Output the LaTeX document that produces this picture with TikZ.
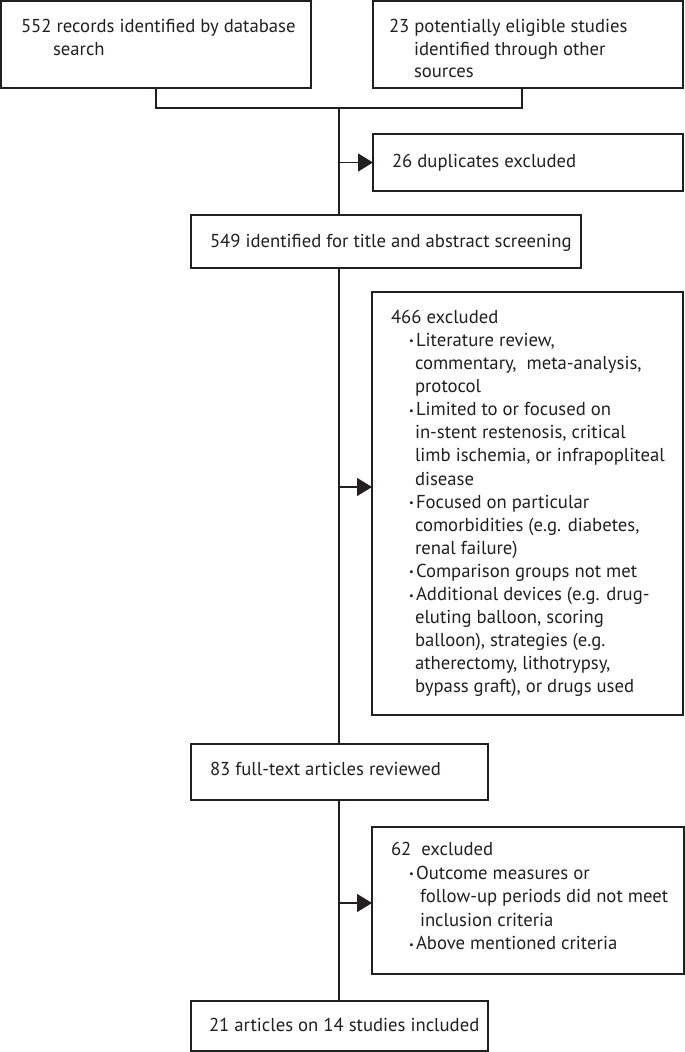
\documentclass[tikz,border=0pt]{standalone}
\usepackage{fontspec}
\setmainfont{PT Sans}
\usetikzlibrary{arrows.meta}
\definecolor{ink}{RGB}{35,31,32}
\newcommand{\bul}{\makebox[7pt][l]{\raisebox{1.5pt}{\fontsize{10.5}{10.5}\selectfont •}}}
\begin{document}
\begin{tikzpicture}[x=1pt,y=-1pt,
  box/.style={draw=ink, line width=1.4pt, rectangle, inner sep=0pt, outer sep=0pt, anchor=north west},
  txt/.style={anchor=base west, inner sep=0pt, outer sep=0pt, text=ink, font=\fontsize{18.7}{22}\selectfont},
  conn/.style={draw=ink, line width=1.4pt},
  arr/.style={conn, -{Triangle[length=15pt,width=18pt]}}]
\fill[white] (0,0) rectangle (685,1052);
\useasboundingbox (0,0) rectangle (685,1052);
% boxes
\node[box, minimum width=310pt, minimum height=87pt] (b1) at (1,1) {};
\node[box, minimum width=310pt, minimum height=87pt] (b2) at (373,1) {};
\node[box, minimum width=310pt, minimum height=57pt] (b3) at (373,134) {};
\node[box, minimum width=390pt, minimum height=53pt] (b4) at (191,215) {};
\node[box, minimum width=311pt, minimum height=423pt] (b5) at (372,292) {};
\node[box, minimum width=297pt, minimum height=56pt] (b6) at (191,744) {};
\node[box, minimum width=312pt, minimum height=147pt] (b7) at (372,827) {};
\node[box, minimum width=297pt, minimum height=50pt] (b8) at (191,1001) {};
% texts
\node[txt] (t1a) at (21,32.3) {552 records identified by database};
\node[txt] (t1b) at (53,55) {search};
\node[txt] (t2a) at (389,32.3) {23 potentially eligible studies};
\node[txt] (t2b) at (414,55) {identified through other};
\node[txt] (t2c) at (414,77.7) {sources};
\node[txt] (t3) at (392,167.5) {26 duplicates excluded};
\node[txt] (t4) at (210,247.3) {549 identified for title and abstract screening};
\node[txt] (t5a) at (391,323.3) {466 excluded};
\node[txt] (t5b) at (409,346.4) {\bul Literature review,};
\node[txt] (t5c) at (415,369.5) {commentary,\ \ meta-analysis,};
\node[txt] (t5d) at (415,392.6) {protocol};
\node[txt] (t5e) at (409,415.7) {\bul Limited to or focused on};
\node[txt] (t5f) at (415,438.8) {in-stent restenosis, critical};
\node[txt] (t5g) at (415,461.9) {limb ischemia, or infrapopliteal};
\node[txt] (t5h) at (415,485.0) {disease};
\node[txt] (t5i) at (409,508.1) {\bul Focused on particular};
\node[txt] (t5j) at (415,531.2) {comorbidities (e.g. diabetes,};
\node[txt] (t5k) at (415,554.3) {renal failure)};
\node[txt] (t5l) at (409,577.4) {\bul Comparison groups not met};
\node[txt] (t5m) at (409,600.5) {\bul Additional devices (e.g. drug-};
\node[txt] (t5n) at (415,623.6) {eluting balloon, scoring};
\node[txt] (t5o) at (415,646.7) {balloon), strategies (e.g.};
\node[txt] (t5p) at (415,669.8) {atherectomy, lithotrypsy,};
\node[txt] (t5q) at (415,692.9) {bypass graft), or drugs used};
\node[txt] (t6) at (210,775.5) {83 full-text articles reviewed};
\node[txt] (t7a) at (391,855.5) {62\ \ excluded};
\node[txt] (t7b) at (409,879) {\bul Outcome measures or};
\node[txt] (t7c) at (420,902.5) {follow-up periods did not meet};
\node[txt] (t7d) at (420,926) {inclusion criteria};
\node[txt] (t7e) at (409,949.5) {\bul Above mentioned criteria};
\node[txt] (t8) at (209,1031.5) {21 articles on 14 studies included};
% connectors
\coordinate (j) at (339,108);
\coordinate (b2foot) at (522,88);
\coordinate (a5) at (339,487);
\coordinate (a7) at (339,903);
\draw[conn] (b1.south) |- (j) -| (b2foot);
\draw[conn] (j) -- (j |- b4.north);
\draw[arr] (j |- b3.west) -- (b3.west);
\draw[conn] (b4.south -| j) -- (b6.north -| j);
\draw[arr] (a5) -- (a5 -| b5.west);
\draw[conn] (b6.south -| j) -- (b8.north -| j);
\draw[arr] (a7) -- (a7 -| b7.west);
\end{tikzpicture}
\end{document}
